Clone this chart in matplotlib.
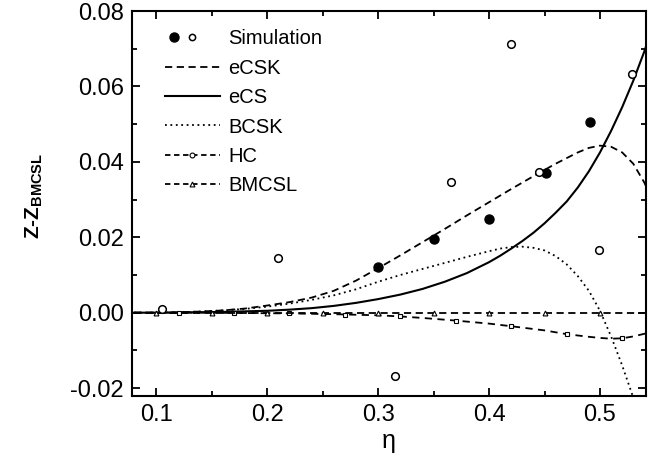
import numpy as np
import matplotlib.pyplot as plt
from matplotlib.legend_handler import HandlerTuple
from matplotlib.ticker import MultipleLocator

plt.rcParams['font.family'] = ['Liberation Sans', 'DejaVu Sans']
plt.rcParams['mathtext.fontset'] = 'custom'
plt.rcParams['mathtext.rm'] = 'Liberation Sans'
plt.rcParams['mathtext.bf'] = 'Liberation Sans:bold'

# simulation points
sim_fill_eta = [0.30, 0.35, 0.40, 0.451, 0.491]
sim_fill_val = [0.0120, 0.0196, 0.0248, 0.0371, 0.0505]
sim_open_eta = [0.105, 0.21, 0.315, 0.366, 0.42, 0.445, 0.499, 0.529]
sim_open_val = [0.0010, 0.0145, -0.0168, 0.0346, 0.0712, 0.0372, 0.0165, 0.0634]

# theory curves
ecsk_eta = [0.08, 0.10, 0.12, 0.14, 0.16, 0.18, 0.20, 0.22, 0.24, 0.26, 0.28, 0.30, 0.32, 0.34,
            0.36, 0.38, 0.40, 0.42, 0.44, 0.46, 0.48, 0.49, 0.50, 0.51, 0.52, 0.53, 0.54, 0.5415]
ecsk_val = [0.0, 0.0, 0.0001, 0.0003, 0.0006, 0.0011, 0.0019, 0.0028, 0.0040, 0.0058, 0.0085, 0.0118,
            0.0152, 0.0187, 0.0222, 0.0258, 0.0293, 0.0328, 0.0362, 0.0395, 0.0425, 0.0437, 0.0443,
            0.0440, 0.0425, 0.0395, 0.0345, 0.0335]

ecs_eta = [0.08, 0.10, 0.12, 0.16, 0.20, 0.22, 0.24, 0.26, 0.28, 0.30, 0.32, 0.34, 0.36, 0.38, 0.40,
           0.41, 0.42, 0.43, 0.44, 0.45, 0.46, 0.47, 0.48, 0.49, 0.50, 0.51, 0.52, 0.53, 0.54, 0.5415]
ecs_val = [0.0, 0.0, 0.00005, 0.0002, 0.0005, 0.0008, 0.0012, 0.0018, 0.0026, 0.0036, 0.0048, 0.0063,
           0.0082, 0.0105, 0.0134, 0.0151, 0.0170, 0.0190, 0.0212, 0.0237, 0.0265, 0.0295, 0.0332,
           0.0375, 0.0425, 0.0482, 0.0545, 0.0615, 0.0693, 0.0706]

bcsk_eta = [0.08, 0.10, 0.12, 0.14, 0.16, 0.18, 0.20, 0.22, 0.24, 0.26, 0.28, 0.30, 0.32, 0.34, 0.36,
            0.38, 0.40, 0.41, 0.42, 0.43, 0.44, 0.45, 0.46, 0.47, 0.48, 0.49, 0.50, 0.51, 0.52, 0.53, 0.535]
bcsk_val = [0.0, 0.0, 0.0001, 0.0003, 0.0006, 0.0010, 0.0016, 0.0024, 0.0034, 0.0046, 0.0062, 0.0082,
            0.0100, 0.0116, 0.0132, 0.0148, 0.0163, 0.0170, 0.0174, 0.0175, 0.0172, 0.0165, 0.0150,
            0.0128, 0.0097, 0.0058, 0.0005, -0.0063, -0.0140, -0.0225, -0.0270]

hc_eta = [0.08, 0.10, 0.14, 0.18, 0.22, 0.26, 0.30, 0.32, 0.34, 0.37, 0.40, 0.42, 0.45, 0.47, 0.49,
          0.50, 0.51, 0.52, 0.53, 0.54, 0.5415]
hc_val = [0.0, 0.0, 0.0, -0.0001, -0.0002, -0.0004, -0.0007, -0.0010, -0.0014, -0.0021, -0.0029,
          -0.0036, -0.0047, -0.0057, -0.0064, -0.0067, -0.0069, -0.0068, -0.0063, -0.0056, -0.0055]
hc_mark_eta = [0.12, 0.17, 0.22, 0.27, 0.32, 0.37, 0.42, 0.47, 0.52]
hc_mark_val = [0.0, -0.0001, -0.0002, -0.0005, -0.0010, -0.0021, -0.0036, -0.0057, -0.0068]

bm_eta = [0.08, 0.5415]
bm_val = [0.0, 0.0]
bm_mark_eta = [0.10, 0.15, 0.20, 0.25, 0.30, 0.35, 0.40, 0.45, 0.50]
bm_mark_val = [0.0] * 9

fig = plt.figure(figsize=(6.59, 4.63), dpi=100)
ax = fig.add_axes([0.2003, 0.1447, 0.7800, 0.8315])

lw = 1.3
l_ecsk, = ax.plot(ecsk_eta, ecsk_val, color='black', lw=lw, ls=(0, (4, 2.5)))
l_ecs, = ax.plot(ecs_eta, ecs_val, color='black', lw=1.5, ls='-')
l_bcsk, = ax.plot(bcsk_eta, bcsk_val, color='black', lw=lw, ls=(0, (1, 2)))
ax.plot(hc_eta, hc_val, color='black', lw=lw, ls=(0, (4, 3)))
ax.plot(hc_mark_eta, hc_mark_val, ls='none', marker='s', ms=3.5, mfc='white', mec='black', mew=0.8)
ax.plot(bm_eta, bm_val, color='black', lw=lw, ls=(0, (4, 2.5)))
ax.plot(bm_mark_eta, bm_mark_val, ls='none', marker='^', ms=3.5, mfc='white', mec='black', mew=0.8)

p_fill, = ax.plot(sim_fill_eta, sim_fill_val, ls='none', marker='o', ms=6.5, color='black')
p_open, = ax.plot(sim_open_eta, sim_open_val, ls='none', marker='o', ms=5.5, mfc='white', mec='black', mew=1.1)

# legend proxies
h_hc, = ax.plot([], [], color='black', lw=lw, ls=(0, (3, 2)), marker='o', ms=3.5, mfc='white', mec='black', mew=0.8)
h_bm, = ax.plot([], [], color='black', lw=lw, ls=(0, (3, 2)), marker='^', ms=3.5, mfc='white', mec='black', mew=0.8)
h_fill, = ax.plot([], [], ls='none', marker='o', ms=6.5, color='black')
h_open, = ax.plot([], [], ls='none', marker='o', ms=4.5, mfc='white', mec='black', mew=1.1)

leg = ax.legend([(h_fill, h_open), l_ecsk, l_ecs, l_bcsk, h_hc, h_bm],
                ['Simulation', 'eCSK', 'eCS', 'BCSK', 'HC', 'BMCSL'],
                handler_map={tuple: HandlerTuple(ndivide=3, pad=0.0)},
                loc='upper left', bbox_to_anchor=(0.048, 0.974), borderaxespad=0, frameon=False,
                fontsize=14.5, handlelength=2.75, handletextpad=0.4, labelspacing=0.52)

ax.set_xlim(0.078, 0.5415)
ax.set_ylim(-0.0221, 0.08)
ax.xaxis.set_major_locator(MultipleLocator(0.1))
ax.xaxis.set_minor_locator(MultipleLocator(0.05))
ax.yaxis.set_major_locator(MultipleLocator(0.02))
ax.yaxis.set_minor_locator(MultipleLocator(0.01))
ax.xaxis.set_major_formatter(plt.FuncFormatter(lambda v, p: f'{v:.1f}'))
ax.yaxis.set_major_formatter(plt.FuncFormatter(lambda v, p: f'{v:.2f}'))
ax.tick_params(which='both', direction='in', top=True, right=True, labelsize=17, width=1.3)
ax.tick_params(which='major', length=6, pad=6)
ax.tick_params(which='minor', length=3.5)
for s in ax.spines.values():
    s.set_linewidth(1.5)

ax.set_xlabel('η', fontsize=18, labelpad=2)
ax.set_ylabel(r'Z-Z$_{\mathbf{BMCSL}}$', fontsize=15, fontweight='bold')
ax.yaxis.set_label_coords(-0.17, 0.52)

fig.savefig('out.png', dpi=100)
